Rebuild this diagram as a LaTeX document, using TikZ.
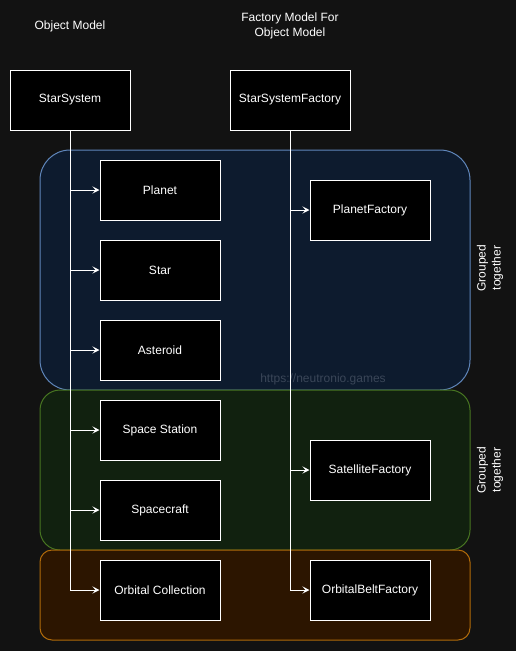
\documentclass[tikz,border=0pt]{standalone}
\usepackage{fontspec}
\setmainfont{Liberation Sans}
\usetikzlibrary{positioning, arrows.meta, calc}

\definecolor{bgdark}{HTML}{121212}
\definecolor{bluefill}{HTML}{0D1B2E}
\definecolor{bluedraw}{HTML}{5F86BA}
\definecolor{greenfill}{HTML}{11210F}
\definecolor{greendraw}{HTML}{477521}
\definecolor{orangefill}{HTML}{2C1500}
\definecolor{orangedraw}{HTML}{B06A0A}
\definecolor{markgray}{HTML}{3A4658}

\tikzset{
    objbox/.style={draw=white, fill=black, line width=1pt, minimum width=120pt,
        minimum height=60pt, text=white, font=\fontsize{12}{14}\selectfont},
    conn/.style={draw=white, line width=1pt, -{Stealth[length=7pt, width=7pt, inset=3pt]}},
    grouplabel/.style={rotate=90, align=center, text=white, font=\fontsize{12}{15}\selectfont}
}

\begin{document}
\begin{tikzpicture}[x=1pt, y=-1pt]
        % --- BACKGROUND ---
        \useasboundingbox (0, 0) rectangle (516, 651);
        \fill[bgdark] (0, 0) rectangle (516, 651);

        % --- GROUPS ---
        \draw[fill=bluefill, draw=bluedraw, line width=1pt, rounded corners=30pt]
            (40, 150) rectangle (470, 390);
        \draw[fill=greenfill, draw=greendraw, line width=1pt, rounded corners=20pt]
            (40, 390) rectangle (470, 550);
        \draw[fill=orangefill, draw=orangedraw, line width=1pt, rounded corners=12pt]
            (40, 550) rectangle (470, 640);

        \node[grouplabel] (grpblue) at (490, 268) {Grouped\\together};
        \node[grouplabel] (grpgreen) at (490, 470) {Grouped\\together};

        % Watermark
        \node[text=markgray, font=\fontsize{12}{14}\selectfont] (mark) at (323, 379) {https://neutronio.games};

        % --- LEFT SIDE: OBJECT MODEL ---
        \node[text=white, font=\fontsize{12}{14}\selectfont] (objtitle) at (70, 26) {Object Model};
        \node[objbox] (sys) at (70, 100) {StarSystem};

        \node[objbox] (planet) at (160, 190) {Planet};
        \node[objbox] (star) at (160, 270) {Star};
        \node[objbox] (asteroid) at (160, 350) {Asteroid};
        \node[objbox] (station) at (160, 430) {Space Station};
        \node[objbox] (craft) at (160, 510) {Spacecraft};
        \node[objbox] (orbital) at (160, 590) {Orbital Collection};

        % --- RIGHT SIDE: FACTORY MODEL ---
        \node[text=white, align=center, font=\fontsize{12}{15}\selectfont] (factitle) at (290, 26)
            {Factory Model For\\Object Model};
        \node[objbox] (sysfac) at (290, 100) {StarSystemFactory};

        \node[objbox] (planetfac) at (370, 210) {PlanetFactory};
        \node[objbox] (satfac) at (370, 470) {SatelliteFactory};
        \node[objbox] (beltfac) at (370, 590) {OrbitalBeltFactory};

        % Draw connections
        \foreach \target in {planet, star, asteroid, station, craft, orbital} {
            \draw[conn] (sys.south) |- (\target.west);
        }
        \foreach \target in {planetfac, satfac, beltfac} {
            \draw[conn] (sysfac.south) |- (\target.west);
        }
    \end{tikzpicture}
\end{document}
